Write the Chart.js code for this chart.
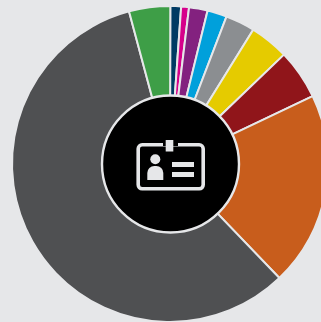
<!DOCTYPE html>
<html>
<head>
<meta charset="utf-8">
<title>Doughnut</title>
<script src="https://cdn.jsdelivr.net/npm/chart.js@4"></script>
<style>
  html, body { margin: 0; padding: 0; width: 321px; height: 322px; overflow: hidden; background: #e6e7e9; }
  #wrap { position: absolute; left: -1px; top: 0; width: 342px; height: 328px; }
</style>
</head>
<body>
<div id="wrap"><canvas id="badgeChart" width="342" height="328"></canvas></div>
<script>
const categories = ['A', 'B', 'C', 'D', 'E', 'F', 'G', 'H', 'I', 'J'];
const shares = [1.1, 0.8, 1.9, 2.0, 3.0, 4.0, 5.1, 19.9, 58.0, 4.2];
const sliceColors = ['#003a63', '#d6008b', '#83217f', '#00a0db', '#8b8e91',
                     '#e5cb00', '#90151a', '#c85d1c', '#4f5052', '#3e9e47'];

const paper = '#e6e7e9';

// Black disc with the id card icon in the hole of the ring
const badgePlugin = {
    id: 'badge',
    afterDraw(chart) {
        const c = chart.ctx;
        const arc = chart.getDatasetMeta(0).data[0];
        const cx = arc.x + 0.5, cy = arc.y;

        c.save();
        c.beginPath();
        c.arc(cx, cy, 68.5, 0, Math.PI * 2);
        c.fillStyle = '#000';
        c.fill();
        c.lineWidth = 2.4;
        c.strokeStyle = paper;
        c.stroke();

        c.translate(cx, cy);

        // card outline
        c.beginPath();
        c.roundRect(-32.3, -19.2, 65, 44, 4);
        c.lineWidth = 3.6;
        c.stroke();

        // clip on the top edge
        c.fillStyle = '#000';
        c.fillRect(-7.5, -25, 15, 7);
        c.fillStyle = paper;
        c.fillRect(-4.8, -24, 7.6, 11.5);

        // person
        c.beginPath();
        c.arc(-15.2, -4.7, 5, 0, Math.PI * 2);
        c.fill();
        c.beginPath();
        c.roundRect(-23.2, 2, 16, 14, [7, 7, 0, 0]);
        c.fill();

        // text lines
        c.fillRect(1.5, -2, 22, 5);
        c.fillRect(1.5, 8, 22, 5);
        c.restore();
    }
};

new Chart(document.getElementById('badgeChart'), {
    type: 'doughnut',
    data: {
        labels: categories,
        datasets: [{
            data: shares,
            backgroundColor: sliceColors,
            borderColor: paper,
            borderWidth: 2
        }]
    },
    options: {
        responsive: false,
        animation: false,
        rotation: 0.1,
        cutout: '40%',
        layout: { padding: 5 },
        plugins: {
            legend: { display: false },
            tooltip: { enabled: false }
        }
    },
    plugins: [badgePlugin]
});
</script>
</body>
</html>
